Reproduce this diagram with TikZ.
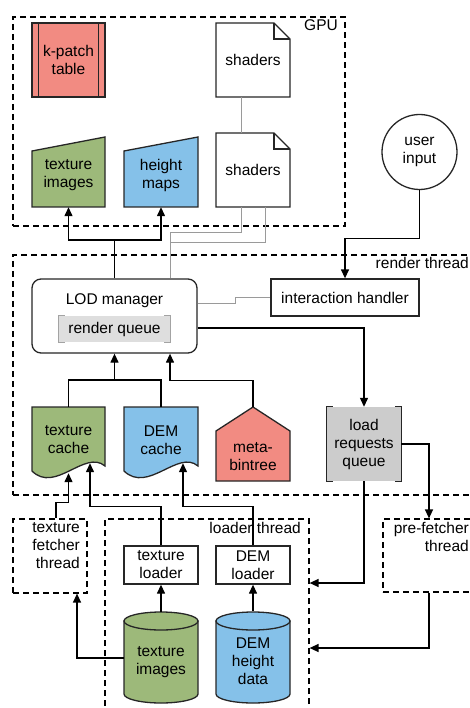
\documentclass[tikz,border=0pt]{standalone}
\usepackage{fontspec}
\setmainfont{Liberation Sans}
\usetikzlibrary{arrows.meta}

\definecolor{salmon}{HTML}{F28B82}
\definecolor{leaf}{HTML}{9DB97A}
\definecolor{sky}{HTML}{85C1E9}
\definecolor{qgray}{HTML}{CCCCCC}
\definecolor{rqfill}{HTML}{DEDEDE}
\definecolor{rqline}{HTML}{A3A3A3}
\definecolor{wire}{HTML}{9A9A9A}
\definecolor{ink}{HTML}{262626}

\begin{document}
\begin{tikzpicture}[x=1pt,y=-1pt,
  every node/.style={font=\fontsize{15.5}{18}\selectfont, text=black},
  lbl/.style={inner sep=0pt, align=center},
  outline/.style={draw=ink, line width=1.3pt, line join=miter},
  area/.style={draw=black, line width=1.2pt, dash pattern=on 6pt off 4pt, inner sep=0pt},
  arr/.style={draw=black, line width=1.3pt, -{Triangle[length=9pt,width=8pt]}},
  link/.style={draw=black, line width=1.3pt},
  glink/.style={draw=wire, line width=1pt},
  bracket/.style={line width=1.3pt},
]
\useasboundingbox (0,0) rectangle (469,708);

% ---- dashed thread / device areas
\node[area, minimum width=332pt, minimum height=209pt] (gpu) at (179,121.5) {};
\node[area, minimum width=462pt, minimum height=240pt] (rt) at (244,375) {};
\node[area, minimum width=74pt, minimum height=74pt] (tft) at (50,556) {};
\node[area, minimum width=204pt, minimum height=201pt] (ldr) at (207,619.5) {};
\node[area, minimum width=92pt, minimum height=73pt] (pfx) at (429,555.5) {};

\node[anchor=base east, inner sep=0pt] (gpulbl) at (338,31) {GPU};
\node[anchor=base east, inner sep=0pt] (rtlbl) at (469,268) {render thread};
\node[anchor=base east, inner sep=0pt] (ldlbl) at (301,533) {loader thread};
\node[anchor=east, inner sep=0pt, align=right] (tftlbl) at (80,546) {texture\\fetcher\\thread};
\node[anchor=east, inner sep=0pt, align=right] (pfxlbl) at (469,537) {pre-fetcher\\thread};

% ---- GPU contents
\node[outline, fill=salmon, minimum width=73pt, minimum height=74pt, inner sep=0pt, align=center] (kpt) at (68.5,60) {k-patch\\table};
\draw[outline] ([xshift=7pt]kpt.north west) -- ([xshift=7pt]kpt.south west);
\draw[outline] ([xshift=-7pt]kpt.north east) -- ([xshift=-7pt]kpt.south east);

\path[outline, fill=leaf] (32,151) -- (105,137) -- (105,207) -- (32,207) -- cycle;
\node[lbl, minimum width=73pt, minimum height=64pt] (timg) at (68.5,175) {texture\\images};
\path[outline, fill=sky] (124,151) -- (198,137) -- (198,207) -- (124,207) -- cycle;
\node[lbl, minimum width=74pt, minimum height=64pt] (hmap) at (161,175) {height\\maps};

\path[outline, fill=white] (216,23) -- (274,23) -- (290,39) -- (290,97) -- (216,97) -- cycle;
\draw[outline] (274,23) -- (274,39) -- (290,39);
\node[lbl, minimum width=74pt, minimum height=74pt] (sh1) at (253,60) {shaders};
\path[outline, fill=white] (216,133) -- (274,133) -- (290,149) -- (290,207) -- (216,207) -- cycle;
\draw[outline] (274,133) -- (274,149) -- (290,149);
\node[lbl, minimum width=74pt, minimum height=74pt] (sh2) at (253,170) {shaders};

% ---- user input
\node[outline, circle, fill=white, minimum size=75pt, inner sep=0pt, align=center] (ui) at (419.5,152) {user\\input};

% ---- render thread contents
\node[outline, fill=white, rounded corners=9pt, minimum width=165pt, minimum height=74pt] (lod) at (114.5,316) {};
\node[lbl] (lodlbl) at (114.5,301) {LOD manager};
\node[fill=rqfill, minimum width=111pt, minimum height=26pt, inner sep=0pt] (rq) at (114.5,329) {render queue};
\draw[bracket, draw=rqline] ([xshift=6pt]rq.north west) -- (rq.north west) -- (rq.south west) -- ([xshift=6pt]rq.south west);
\draw[bracket, draw=rqline] ([xshift=-6pt]rq.north east) -- (rq.north east) -- (rq.south east) -- ([xshift=-6pt]rq.south east);

\node[outline, fill=white, minimum width=148pt, minimum height=37pt, inner sep=0pt] (ih) at (345,297.5) {interaction handler};

\path[outline, fill=leaf] (32,407) -- (105,407) -- (105,466) .. controls (85,449) and (55,494) .. (32,471) -- cycle;
\node[lbl, minimum width=73pt, minimum height=66pt] (tc) at (68.5,440) {texture\\cache};
\path[outline, fill=sky] (124,407) -- (198,407) -- (198,466) .. controls (178,449) and (148,494) .. (124,471) -- cycle;
\node[lbl, minimum width=74pt, minimum height=66pt] (dc) at (161,440) {DEM\\cache};

\path[outline, fill=salmon] (253,407) -- (290,431) -- (290,481) -- (216,481) -- (216,431) -- cycle;
\node[lbl, minimum width=74pt, minimum height=49pt] (mbt) at (253,456.5) {meta-\\bintree};

\node[fill=qgray, minimum width=74pt, minimum height=74pt, inner sep=0pt, align=center] (lrq) at (364,444) {load\\requests\\queue};
\draw[bracket, draw=ink] ([xshift=6pt]lrq.north west) -- (lrq.north west) -- (lrq.south west) -- ([xshift=6pt]lrq.south west);
\draw[bracket, draw=ink] ([xshift=-6pt]lrq.north east) -- (lrq.north east) -- (lrq.south east) -- ([xshift=-6pt]lrq.south east);

% ---- loader thread contents
\node[outline, fill=white, minimum width=74pt, minimum height=38pt, inner sep=0pt, align=center] (tld) at (161,565) {texture\\loader};
\node[outline, fill=white, minimum width=74pt, minimum height=38pt, inner sep=0pt, align=center] (dld) at (253,565) {DEM\\loader};

\path[outline, fill=leaf] (124,621) -- (124,694) .. controls (124,699) and (140.6,703) .. (161,703) .. controls (181.4,703) and (198,699) .. (198,694) -- (198,621) -- cycle;
\path[outline, fill=leaf] (161,621) ellipse [x radius=37pt, y radius=9pt];
\node[lbl, minimum width=74pt, minimum height=100pt] (timgdb) at (161,662) {texture\\images};

\path[outline, fill=sky] (216,621) -- (216,694) .. controls (216,699) and (232.6,703) .. (253,703) .. controls (273.4,703) and (290,699) .. (290,694) -- (290,621) -- cycle;
\path[outline, fill=sky] (253,621) ellipse [x radius=37pt, y radius=9pt];
\node[lbl, minimum width=74pt, minimum height=100pt] (demdb) at (253,661) {DEM\\height\\data};

% ---- connectors
\coordinate (gj) at (114.5,240);
\draw[link] (lod.north) -- (gj);
\draw[arr] (gj) -| (timg.south);
\draw[arr] (gj) -| (hmap.south);

\draw[glink] ([xshift=-12pt]sh1.south) -- ([xshift=-12pt]sh2.north);
\draw[glink] ([xshift=-12pt]sh2.south) |- ([xshift=55.5pt,yshift=46pt]lod.north) -- ([xshift=55.5pt]lod.north);
\draw[glink] ([xshift=12pt]sh2.south) |- ([xshift=55.5pt,yshift=36pt]lod.north);
\draw[glink] ([yshift=13pt]lod.east) -- ++(38,0) |- (ih.west);

\draw[arr] (ui.south) |- ([yshift=40pt]ih.north) -- (ih.north);
\draw[arr] ([yshift=-12pt]lod.east) -| (lrq.north);

\coordinate (cj) at (114.5,380);
\draw[link] (tc.north) |- (cj);
\draw[link] (dc.north) |- (cj);
\draw[arr] (cj) -- (lod.south);
\draw[arr] ([yshift=25pt]mbt.north) |- ([xshift=55.5pt,yshift=-27pt]lod.south) -- ([xshift=55.5pt]lod.south);

\draw[arr] (lrq.east) -| (pfx.north);
\draw[arr] (lrq.south) |- ([yshift=36.5pt]ldr.east);
\draw[arr] (pfx.south) |- ([yshift=-28.5pt]ldr.east);

\draw[arr] ([xshift=6pt]tft.north) |- ([yshift=-29pt]tc.south) -- (tc.south);
\draw[arr] (tld.north) |- ([xshift=21.5pt,yshift=-33pt]tc.south) -- ([xshift=21.5pt,yshift=10pt]tc.south);
\draw[arr] (dld.north) |- ([xshift=22pt,yshift=-33pt]dc.south) -- ([xshift=22pt,yshift=10pt]dc.south);

\draw[arr] (timgdb.north) -- (tld.south);
\draw[arr] (demdb.north) -- (dld.south);
\draw[arr] ([yshift=4pt]timgdb.west) -| ([xshift=27pt]tft.south);
\end{tikzpicture}
\end{document}
